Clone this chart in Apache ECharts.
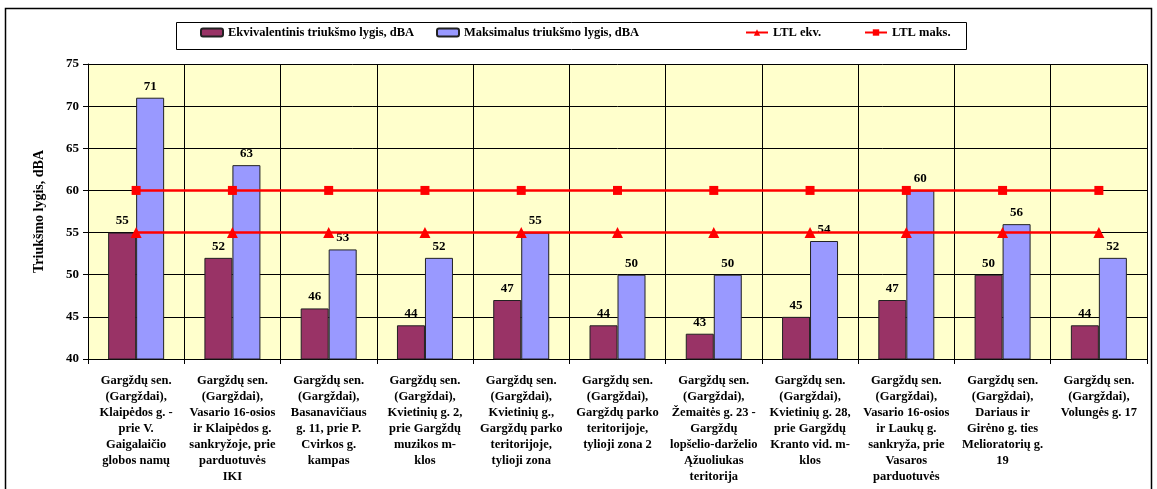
<!DOCTYPE html>
<html><head><meta charset="utf-8">
<script src="https://cdn.jsdelivr.net/npm/echarts@6/dist/echarts.min.js"></script>
<style>html,body{margin:0;padding:0;background:#fff}#c{width:1157px;height:489px}</style>
</head><body><div id="c"></div>
<script>
const categories = [
  "Gargždų sen.\n(Gargždai),\nKlaipėdos g. -\nprie V.\nGaigalaičio\nglobos namų",
  "Gargždų sen.\n(Gargždai),\nVasario 16-osios\nir Klaipėdos g.\nsankryžoje, prie\nparduotuvės\nIKI",
  "Gargždų sen.\n(Gargždai),\nBasanavičiaus\ng. 11, prie P.\nCvirkos g.\nkampas",
  "Gargždų sen.\n(Gargždai),\nKvietinių g. 2,\nprie Gargždų\nmuzikos m-\nklos",
  "Gargždų sen.\n(Gargždai),\nKvietinių g.,\nGargždų parko\nteritorijoje,\ntylioji zona",
  "Gargždų sen.\n(Gargždai),\nGargždų parko\nteritorijoje,\ntylioji zona 2",
  "Gargždų sen.\n(Gargždai),\nŽemaitės g. 23 -\nGargždų\nlopšelio-darželio\nĄžuoliukas\nteritorija",
  "Gargždų sen.\n(Gargždai),\nKvietinių g. 28,\nprie Gargždų\nKranto vid. m-\nklos",
  "Gargždų sen.\n(Gargždai),\nVasario 16-osios\nir Laukų g.\nsankryža, prie\nVasaros\nparduotuvės",
  "Gargždų sen.\n(Gargždai),\nDariaus ir\nGirėno g. ties\nMelioratorių g.\n19",
  "Gargždų sen.\n(Gargždai),\nVolungės g. 17"
];
const ekvivalentinis = [55, 52, 46, 44, 47, 44, 43, 45, 47, 50, 44];
const maksimalus = [71, 63, 53, 52, 55, 50, 50, 54, 60, 56, 52];
const ltlEkv = [55, 55, 55, 55, 55, 55, 55, 55, 55, 55, 55];
const ltlMaks = [60, 60, 60, 60, 60, 60, 60, 60, 60, 60, 60];
const seriesNames = ["Ekvivalentinis triukšmo lygis, dBA", "Maksimalus triukšmo lygis, dBA", "LTL ekv.", "LTL maks."];
const yAxisName = "Triukšmo lygis, dBA";

const FONT = "'Liberation Serif', 'Times New Roman', serif";
const chart = echarts.init(document.getElementById('c'), null, {renderer: 'canvas'});
const barLabel = {show: true, position: 'top', distance: 5, color: '#000', fontFamily: FONT, fontWeight: 'bold', fontSize: 13};
const legendLefts = [200, 436, 745, 864];
const legends = seriesNames.map((n, i) => ({
  top: 26, left: legendLefts[i], padding: 0,
  itemWidth: 22, itemHeight: 8, itemGap: 4,
  textStyle: {fontFamily: FONT, fontWeight: 'bold', fontSize: 12.5, color: '#000'},
  data: [n]
}));
chart.setOption({
  animation: false,
  backgroundColor: '#fff',
  textStyle: {fontFamily: FONT},
  graphic: [
    {type: 'rect', shape: {x: 5.5, y: 8.5, width: 1146, height: 520},
     style: {fill: 'none', stroke: '#000', lineWidth: 1.5}, z: -10, silent: true},
    {type: 'rect', shape: {x: 176.5, y: 22.5, width: 790, height: 27},
     style: {fill: '#fff', stroke: '#000', lineWidth: 1}, z: -5, silent: true}
  ],
  legend: legends,
  grid: {left: 88, right: 10, top: 64, bottom: 130, show: true, backgroundColor: '#FFFFCC', borderWidth: 0},
  xAxis: {
    type: 'category', data: categories, boundaryGap: true,
    axisLine: {lineStyle: {color: '#000', width: 1}},
    axisTick: {show: true, length: 5, lineStyle: {color: '#000'}},
    splitLine: {show: true, lineStyle: {color: '#000', width: 1}},
    axisLabel: {interval: 0, margin: 14, color: '#000', fontFamily: FONT, fontWeight: 'bold', fontSize: 12.5, lineHeight: 16, align: 'center'}
  },
  yAxis: {
    type: 'value', min: 40, max: 75, interval: 5,
    name: yAxisName, nameLocation: 'middle', nameGap: 42, nameRotate: 90,
    nameTextStyle: {fontFamily: FONT, fontWeight: 'bold', fontSize: 14, color: '#000'},
    axisLine: {show: true, lineStyle: {color: '#000', width: 1}},
    axisTick: {show: true, length: 5, lineStyle: {color: '#000'}},
    splitLine: {show: true, lineStyle: {color: '#000', width: 1}},
    axisLabel: {margin: 9, color: '#000', fontFamily: FONT, fontWeight: 'bold', fontSize: 13}
  },
  series: [
    {name: seriesNames[0], type: 'bar', data: ekvivalentinis, barWidth: 28, barGap: '0%',
     itemStyle: {color: '#993366', borderColor: '#222', borderWidth: 1}, label: barLabel, z: 2},
    {name: seriesNames[1], type: 'bar', data: maksimalus, barWidth: 28,
     itemStyle: {color: '#9999FF', borderColor: '#222', borderWidth: 1}, label: barLabel, z: 2},
    {name: seriesNames[2], type: 'line', data: ltlEkv, symbol: 'triangle', symbolSize: 11,
     itemStyle: {color: '#FF0000'}, lineStyle: {color: '#FF0000', width: 2.5}, z: 5},
    {name: seriesNames[3], type: 'line', data: ltlMaks, symbol: 'rect', symbolSize: 9,
     itemStyle: {color: '#FF0000'}, lineStyle: {color: '#FF0000', width: 2.5}, z: 5}
  ]
});
</script></body></html>
